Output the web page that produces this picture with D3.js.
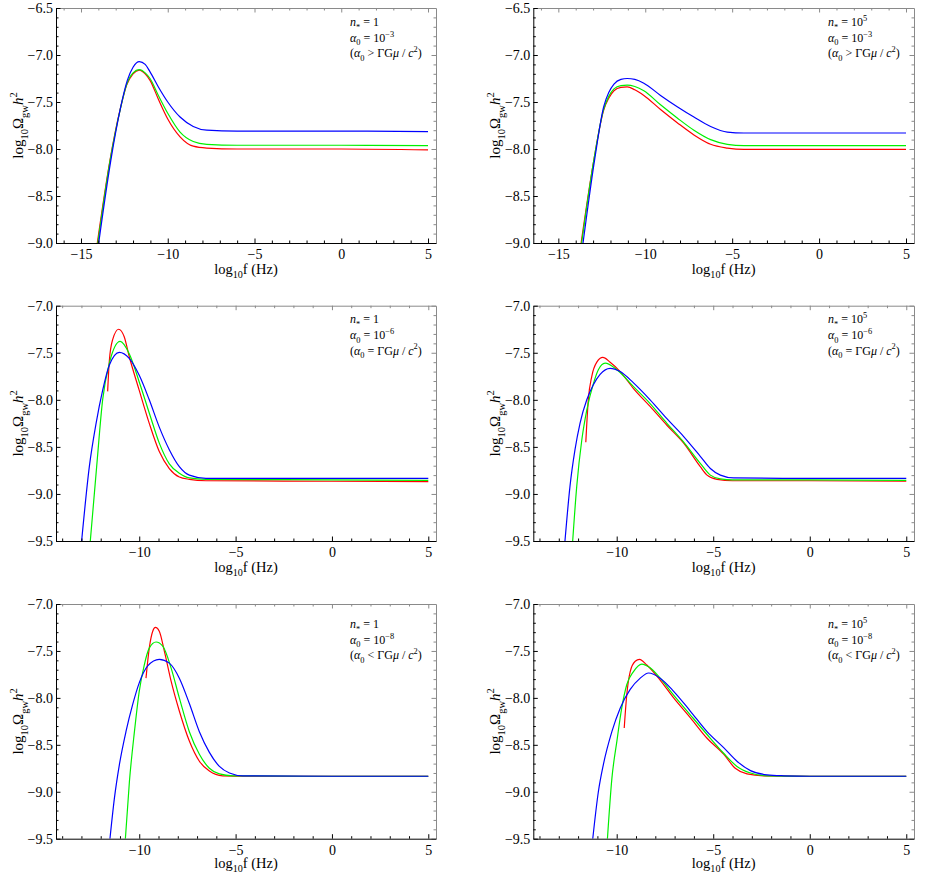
<!DOCTYPE html>
<html>
<head>
<meta charset="utf-8">
<script src="https://cdn.jsdelivr.net/npm/d3@7"></script>
<style>
body { margin: 0; background: #fff; }
svg { display: block; }
svg text { font-family: 'Liberation Serif', 'Times New Roman', serif; }
</style>
</head>
<body>
<svg id="chart" width="926" height="873"></svg>
<script>

// curves: [log10 f, log10 Omega h^2]
const tlRed = [[-14.06,-9.0],[-13.33,-8.12],[-12.75,-7.585],[-12.37,-7.32],[-12.0,-7.2],[-11.64,-7.16],[-11.3,-7.2],[-11.02,-7.27],[-10.54,-7.47],[-10.0,-7.68],[-9.29,-7.87],[-8.53,-7.97],[-7.75,-7.99],[-6,-8.0],[0,-8.0],[5,-8.01]]
const tlGreen = [[-14.03,-9.0],[-13.32,-8.12],[-12.74,-7.58],[-12.36,-7.31],[-12.0,-7.19],[-11.64,-7.155],[-11.3,-7.19],[-11.02,-7.25],[-10.54,-7.43],[-10.0,-7.62],[-9.29,-7.82],[-8.53,-7.92],[-7.75,-7.95],[-6,-7.96],[0,-7.96],[5,-7.965]]
const tlBlue = [[-13.98,-9.0],[-13.28,-8.12],[-12.72,-7.56],[-12.33,-7.27],[-12.0,-7.13],[-11.64,-7.07],[-11.3,-7.1],[-11.02,-7.18],[-10.54,-7.34],[-10.0,-7.5],[-9.29,-7.66],[-8.53,-7.76],[-7.75,-7.8],[-6,-7.81],[0,-7.81],[5,-7.815]]

const trRed = [[-13.69,-9.0],[-12.96,-8.12],[-12.39,-7.585],[-12.1,-7.46],[-11.8,-7.38],[-11.4,-7.345],[-11.04,-7.34],[-10.6,-7.37],[-10.08,-7.43],[-9.12,-7.58],[-8.16,-7.72],[-7.2,-7.85],[-6.24,-7.95],[-5.28,-7.99],[-4.32,-8.005],[0,-8.005],[5,-8.005]]
const trGreen = [[-13.66,-9.0],[-12.95,-8.11],[-12.39,-7.575],[-12.1,-7.44],[-11.8,-7.36],[-11.4,-7.325],[-11.04,-7.32],[-10.6,-7.335],[-10.08,-7.38],[-9.12,-7.53],[-8.16,-7.67],[-7.2,-7.8],[-6.24,-7.9],[-5.28,-7.95],[-4.32,-7.965],[0,-7.965],[5,-7.965]]
const trBlue = [[-13.58,-9.0],[-12.9,-8.1],[-12.39,-7.55],[-12.1,-7.4],[-11.8,-7.31],[-11.4,-7.26],[-11.04,-7.25],[-10.6,-7.26],[-10.08,-7.3],[-9.12,-7.43],[-8.16,-7.55],[-7.2,-7.66],[-6.24,-7.76],[-5.28,-7.82],[-4.32,-7.83],[0,-7.83],[5,-7.83]]

const mlRed = [[-11.64,-7.91],[-11.55,-7.58],[-11.38,-7.36],[-11.07,-7.25],[-10.78,-7.33],[-10.52,-7.54],[-10.0,-7.9],[-9.48,-8.25],[-8.96,-8.55],[-8.44,-8.73],[-7.92,-8.82],[-7.4,-8.845],[-6.54,-8.86],[0,-8.865],[5,-8.87]]
const mlGreen = [[-12.54,-9.5],[-12.21,-8.71],[-11.9,-8.0],[-11.55,-7.61],[-10.99,-7.38],[-10.52,-7.51],[-10.0,-7.81],[-9.48,-8.14],[-8.96,-8.46],[-8.44,-8.68],[-7.92,-8.78],[-7.4,-8.83],[-6.54,-8.845],[0,-8.85],[5,-8.855]]
const mlBlue = [[-12.99,-9.5],[-12.59,-8.71],[-12.24,-8.25],[-11.9,-7.9],[-11.55,-7.63],[-11.03,-7.495],[-10.52,-7.56],[-10.0,-7.74],[-9.48,-8.0],[-8.96,-8.29],[-8.44,-8.53],[-7.92,-8.71],[-7.4,-8.8],[-6.54,-8.834],[0,-8.835],[5,-8.835]]

const mrRed = [[-11.6,-8.45],[-11.47,-8.0],[-11.29,-7.75],[-11.03,-7.6],[-10.72,-7.55],[-10.34,-7.6],[-9.82,-7.7],[-9.13,-7.88],[-8.27,-8.07],[-7.4,-8.27],[-6.53,-8.46],[-5.67,-8.71],[-5.32,-8.8],[-4.8,-8.845],[-4,-8.86],[0,-8.86],[5,-8.865]]
const mrGreen = [[-12.28,-9.5],[-12.07,-8.92],[-11.81,-8.43],[-11.55,-8.11],[-11.21,-7.83],[-10.95,-7.68],[-10.6,-7.61],[-9.99,-7.68],[-9.13,-7.86],[-8.27,-8.04],[-7.4,-8.25],[-6.53,-8.45],[-5.67,-8.675],[-5.15,-8.8],[-4.63,-8.84],[-4,-8.85],[0,-8.85],[5,-8.855]]
const mrBlue = [[-12.68,-9.5],[-12.42,-8.92],[-12.16,-8.53],[-11.9,-8.25],[-11.55,-8.0],[-11.21,-7.84],[-10.86,-7.73],[-10.34,-7.665],[-9.82,-7.7],[-9.13,-7.82],[-8.27,-8.0],[-7.4,-8.2],[-6.53,-8.39],[-5.67,-8.6],[-5.15,-8.73],[-4.63,-8.8],[-3.94,-8.83],[0,-8.835],[5,-8.835]]

const blRed = [[-9.65,-7.79],[-9.48,-7.47],[-9.3,-7.29],[-9.16,-7.25],[-8.96,-7.29],[-8.7,-7.5],[-8.35,-7.82],[-7.92,-8.14],[-7.4,-8.46],[-6.88,-8.675],[-6.36,-8.78],[-5.67,-8.83],[-4.5,-8.835],[0,-8.835],[5,-8.835]]
const blGreen = [[-10.72,-9.5],[-10.51,-8.89],[-10.25,-8.36],[-10.0,-7.93],[-9.74,-7.65],[-9.48,-7.47],[-9.13,-7.405],[-8.78,-7.45],[-8.35,-7.68],[-7.92,-8.0],[-7.4,-8.36],[-6.88,-8.6],[-6.36,-8.75],[-5.84,-8.81],[-5.15,-8.83],[0,-8.835],[5,-8.835]]
const blBlue = [[-11.52,-9.5],[-11.29,-9.07],[-11.03,-8.71],[-10.69,-8.36],[-10.34,-8.07],[-10.0,-7.84],[-9.56,-7.66],[-8.96,-7.59],[-8.44,-7.63],[-7.92,-7.79],[-7.4,-8.06],[-6.88,-8.36],[-6.36,-8.58],[-5.84,-8.73],[-5.32,-8.8],[-4.63,-8.83],[0,-8.835],[5,-8.835]]

const brRed = [[-9.61,-8.32],[-9.48,-7.97],[-9.3,-7.72],[-9.04,-7.61],[-8.82,-7.59],[-8.44,-7.65],[-7.75,-7.81],[-7.05,-8.0],[-6.19,-8.21],[-5.32,-8.43],[-4.46,-8.6],[-3.86,-8.75],[-3.25,-8.81],[-2.38,-8.83],[0,-8.835],[5,-8.835]]
const brGreen = [[-10.48,-9.5],[-10.25,-8.86],[-9.99,-8.46],[-9.74,-8.11],[-9.48,-7.86],[-9.13,-7.72],[-8.7,-7.64],[-8.27,-7.68],[-7.75,-7.79],[-7.05,-7.97],[-6.19,-8.18],[-5.32,-8.39],[-4.46,-8.59],[-3.77,-8.73],[-3.07,-8.8],[-2.21,-8.83],[0,-8.835],[5,-8.835]]
const brBlue = [[-11.24,-9.5],[-10.95,-9.0],[-10.69,-8.71],[-10.25,-8.36],[-9.82,-8.11],[-9.3,-7.91],[-8.78,-7.79],[-8.35,-7.735],[-7.75,-7.79],[-7.05,-7.93],[-6.19,-8.14],[-5.32,-8.36],[-4.46,-8.53],[-3.77,-8.675],[-3.07,-8.775],[-2.21,-8.82],[-1.34,-8.83],[0,-8.835],[5,-8.835]]

// axis ranges and ticks per row
const rowXDomain = [[-16.44, 5.46], [-14.32, 5.4], [-14.32, 5.4]]
const rowYDomain = [[-9.0, -6.5], [-9.5, -7.0], [-9.5, -7.0]]
const rowXTicks = [[-15, -10, -5, 0, 5], [-10, -5, 0, 5], [-10, -5, 0, 5]]
const rowYTicks = [[-9.0, -8.5, -8.0, -7.5, -7.0, -6.5], [-9.5, -9.0, -8.5, -8.0, -7.5, -7.0], [-9.5, -9.0, -8.5, -8.0, -7.5, -7.0]]

// annotation texts per panel
const nStar = ['1', '10^5', '1', '10^5', '1', '10^5']
const alphaExp = ['−3', '−3', '−6', '−6', '−8', '−8']
const relation = ['>', '>', '=', '=', '<', '<']

const panelData = [
	[tlRed, tlGreen, tlBlue], [trRed, trGreen, trBlue],
	[mlRed, mlGreen, mlBlue], [mrRed, mrGreen, mrBlue],
	[blRed, blGreen, blBlue], [brRed, brGreen, brBlue]
]
const colors = ['#ff0000', '#00f000', '#0000ff']

let cols = [[56, 436], [533.3, 914]]
let rows = [[8, 243], [305.7, 541], [604, 838.7]]
let noteTop = [18, 17.6, 24]
let titleGap = [31, 30.5, 29]
const serif = "'Liberation Serif', 'Times New Roman', serif"

let svg = d3.select('#chart')

// text with sub/superscripts: kind has 'i' italic, '_' sub, '^' sup
const richText = (sel, parts, size) => {
	sel.style('font-family', serif).style('font-size', size + 'px')
	let shift = 0
	parts.forEach(([s, k]) => {
		let target = k.includes('_') ? size * 0.3 : k.includes('^') ? -size * 0.42 : 0
		let ts = sel.append('tspan').text(s).attr('dy', target - shift)
		shift = target
		if (k.includes('_') || k.includes('^')) ts.style('font-size', (size * 0.7) + 'px')
		if (k.includes('i')) ts.style('font-style', 'italic')
	})
	return sel
}

panelData.forEach((series, i) => {
	let r = Math.floor(i / 2), c = i % 2
	let [x0, x1] = cols[c], [y0, y1] = rows[r]

	let x = d3.scaleLinear().domain(rowXDomain[r]).range([x0, x1])
	let y = d3.scaleLinear().domain(rowYDomain[r]).range([y1, y0])

	let g = svg.append('g')

	let xMinor = d3.range(Math.ceil(rowXDomain[r][0]), Math.floor(rowXDomain[r][1]) + 1).filter(v => v % 5 !== 0)
	let yMinor = d3.range(Math.round(rowYDomain[r][0] * 10), Math.round(rowYDomain[r][1] * 10) + 1)
		.filter(v => v % 5 !== 0).map(v => v / 10)

	// curves, clipped to the frame
	let clipId = 'clip' + i
	svg.append('clipPath').attr('id', clipId)
	.append('rect').attr('x', x0).attr('y', y0).attr('width', x1 - x0).attr('height', y1 - y0)

	let line = d3.line().x(d => x(d[0])).y(d => y(d[1])).curve(d3.curveMonotoneX)
	g.append('g').attr('clip-path', `url(#${clipId})`)
	.selectAll('path').data(series).enter().append('path')
	.attr('d', line)
	.attr('fill', 'none')
	.attr('stroke', (d, j) => colors[j])
	.attr('stroke-width', 1.2)

	// tick-only axes (frame sides and minor ticks)
	const frameAxis = (axis, tf, vals, size, color) => {
		let a = g.append('g').attr('transform', tf)
		.call(axis.tickValues(vals).tickSize(size).tickSizeOuter(0).tickFormat(''))
		a.selectAll('line').attr('stroke', color)
		a.select('.domain').attr('stroke', color)
		return a
	}
	frameAxis(d3.axisTop(x), `translate(0,${y0})`, rowXTicks[r], -4.5, '#8a8a8a')
	frameAxis(d3.axisTop(x), `translate(0,${y0})`, xMinor, -2.5, '#8a8a8a').select('.domain').remove()
	frameAxis(d3.axisRight(y), `translate(${x1},0)`, rowYTicks[r], -4.5, '#8a8a8a')
	frameAxis(d3.axisRight(y), `translate(${x1},0)`, yMinor, -2.5, '#8a8a8a').select('.domain').remove()

	// bottom and left labelled axes
	let axB = g.append('g').attr('transform', `translate(0,${y1})`)
	.call(d3.axisBottom(x).tickValues(rowXTicks[r]).tickSize(-4.5).tickSizeOuter(0).tickPadding(6).tickFormat(d3.format('d')))
	frameAxis(d3.axisBottom(x), `translate(0,${y1})`, xMinor, -2.5, '#000').select('.domain').remove()

	let axL = g.append('g').attr('transform', `translate(${x0},0)`)
	.call(d3.axisLeft(y).tickValues(rowYTicks[r]).tickSize(-4.5).tickSizeOuter(0).tickPadding(3).tickFormat(d3.format('.1f')))
	frameAxis(d3.axisLeft(y), `translate(${x0},0)`, yMinor, -2.5, '#000').select('.domain').remove()

	;[axB, axL].forEach(a => {
		a.attr('font-family', null).attr('font-size', null)
		a.selectAll('text').style('font-family', serif).style('font-size', '14px').attr('fill', '#000')
	})

	// axis titles
	richText(g.append('text').attr('x', (x0 + x1) / 2).attr('y', y1 + titleGap[r]).attr('text-anchor', 'middle'),
		[['log', ''], ['10', '_'], ['f (Hz)', '']], 14.5)

	richText(g.append('text').attr('transform', `translate(${x0 - 33},${(y0 + y1) / 2}) rotate(-90)`)
		.attr('text-anchor', 'middle'),
		[['log', ''], ['10', '_'], ['Ω', ''], ['gw', '_'], ['h', 'i'], ['2', '^']], 15)

	// parameter notes
	let nx = x1 - 86, ny = y0 + noteTop[r]
	let nParts = nStar[i] === '1' ? [[' = 1', '']] : [[' = 10', ''], ['5', '^']]
	let notes = [
		[['n', 'i'], ['*', '_']].concat(nParts),
		[['α', 'i'], ['0', '_'], [' = 10', ''], [alphaExp[i], '^']],
		[['(', ''], ['α', 'i'], ['0', '_'], [` ${relation[i]} ΓG`, ''], ['μ', 'i'], [' / ', ''], ['c', 'i'], ['2', '^'], [')', '']]
	]
	notes.forEach((parts, k) => {
		richText(g.append('text').attr('x', nx).attr('y', ny + k * 15.6), parts, 12)
	})
})

</script>
</body>
</html>
